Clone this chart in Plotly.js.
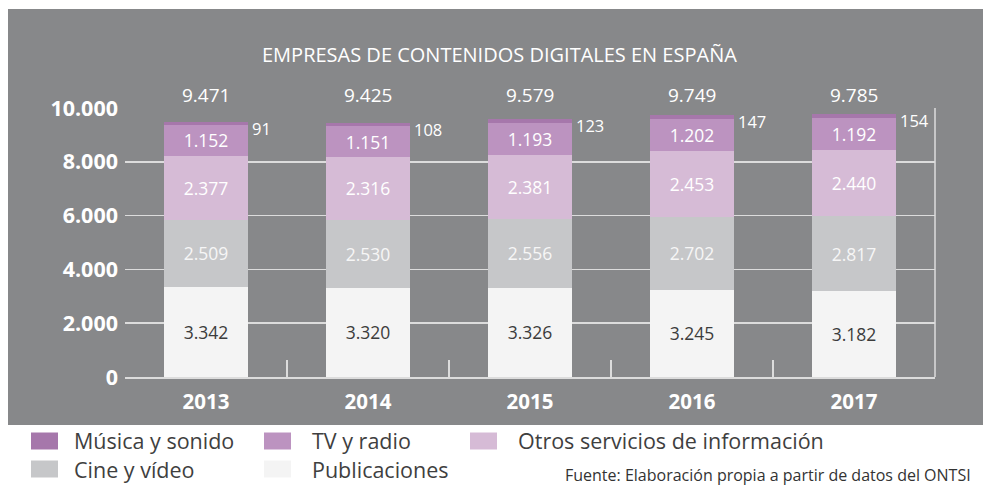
<!DOCTYPE html>
<html><head><meta charset="utf-8">
<script src="https://cdn.plot.ly/plotly-3.0.1.min.js"></script>
<style>body{margin:0;background:#fff}#c{width:983px;height:486px}</style>
</head><body><div id="c"></div>
<script>
const years = ['2013','2014','2015','2016','2017'];
const publicaciones = [3342,3320,3326,3245,3182];
const cine = [2509,2530,2556,2702,2817];
const otros = [2377,2316,2381,2453,2440];
const tv = [1152,1151,1193,1202,1192];
const musica = [91,108,123,147,154];
const totals = [9471,9425,9579,9749,9785];
const seriesNames = ['Publicaciones','Cine y vídeo','Otros servicios de información','TV y radio','Música y sonido'];
const seriesColors = ['#f4f4f4','#c6c7c9','#d6bbd6','#bc93c0','#a677ab'];
const textColors = ['#3c3c3c','#f6f6f6','#ffffff','#ffffff','#ffffff'];
const seriesData = [publicaciones,cine,otros,tv,musica];

const W=983,H=486,L=125,R=935,T=108,B=377;
const px=x=>(x-L)/(R-L), py=y=>(B-y)/(B-T);
const FONT='"Open Sans", "Noto Sans", sans-serif';

const traces = seriesData.map((vals,i)=>({
  type:'bar', x:years, y:vals, name:seriesNames[i],
  marker:{color:seriesColors[i], line:{width:0}},
  width:0.52,
  texttemplate: i<4 ? '%{y:,}' : '',
  textposition: i<4 ? 'inside':'none',
  insidetextanchor:'middle', textangle:0,
  textfont:{family:FONT,size:17.5,color:textColors[i]},
  hoverinfo:'skip', showlegend:false
}));

const fmt = v => v.toString().replace(/\B(?=(\d{3})+(?!\d))/g,'.');
const annotations = [];
annotations.push({xref:'paper',yref:'paper',x:px(499),y:py(55),text:'EMPRESAS DE CONTENIDOS DIGITALES EN ESPAÑA',showarrow:false,font:{family:FONT,size:20,color:'#ffffff'},xanchor:'center',yanchor:'middle'});
years.forEach((yr,i)=>{
  annotations.push({x:i,y:1,xref:'x',yref:'paper',text:fmt(totals[i]),showarrow:false,yanchor:'bottom',xanchor:'center',yshift:-2,font:{family:FONT,size:19,color:'#ffffff'}});
  annotations.push({x:i,y:totals[i],xref:'x',yref:'y',text:fmt(musica[i]),showarrow:false,yanchor:'top',xanchor:'left',xshift:44,yshift:7,font:{family:FONT,size:16.5,color:'#ffffff'}});
});
const legendOrder=[4,3,2,1,0];
const colX=[31,264,470], colT=[72,310,516], rowY=[441,469];
const shapes=[];
shapes.push({type:'rect',xref:'paper',yref:'paper',x0:px(8),x1:px(990),y0:py(425),y1:py(9),fillcolor:'#87888a',line:{width:0},layer:'below'});
shapes.push({type:'line',xref:'paper',yref:'paper',x0:1,x1:1,y0:0,y1:1,line:{color:'#dcdcdc',width:1.5}});
legendOrder.forEach((si,k)=>{
  const c=k%3, r=Math.floor(k/3);
  const x0=colX[c], yc=rowY[r];
  shapes.push({type:'rect',xref:'paper',yref:'paper',x0:px(x0),x1:px(x0+27),y0:py(yc+8.5),y1:py(yc-8.5),fillcolor:seriesColors[si],line:{width:0}});
  annotations.push({xref:'paper',yref:'paper',x:px(colT[c]),y:py(yc),text:seriesNames[si],showarrow:false,xanchor:'left',yanchor:'middle',font:{family:FONT,size:21.5,color:'#3f3f3f'}});
});
annotations.push({xref:'paper',yref:'paper',x:px(563),y:py(475),text:'Fuente: Elaboración propia a partir de datos del ONTSI',showarrow:false,xanchor:'left',yanchor:'middle',font:{family:FONT,size:16,color:'#333333'}});

const layout={
  width:W,height:H,
  margin:{l:L,r:W-R,t:T,b:H-B,pad:0},
  paper_bgcolor:'#ffffff',plot_bgcolor:'rgba(0,0,0,0)',
  barmode:'stack', separators:',.',
  showlegend:false,
  xaxis:{type:'category',range:[-0.5,4.5],showgrid:false,showline:true,linecolor:'#dcdcdc',linewidth:1.5,
    ticks:'inside',tickson:'boundaries',ticklen:17,tickwidth:1.5,tickcolor:'#dcdcdc',
    tickfont:{family:FONT,size:20.5,color:'#ffffff',weight:'bold'},ticklabelstandoff:6,zeroline:false},
  yaxis:{range:[0,10000],tickvals:[0,2000,4000,6000,8000,10000],tickformat:',d',showgrid:true,gridcolor:'#dcdcdc',gridwidth:1.5,
    zeroline:false,showline:false,ticks:'',ticklabelstandoff:6,tickfont:{family:FONT,size:21.5,color:'#ffffff',weight:'bold'}},
  shapes:shapes, annotations:annotations
};
Plotly.newPlot('c',traces,layout,{staticPlot:true,displayModeBar:false});
</script></body></html>
